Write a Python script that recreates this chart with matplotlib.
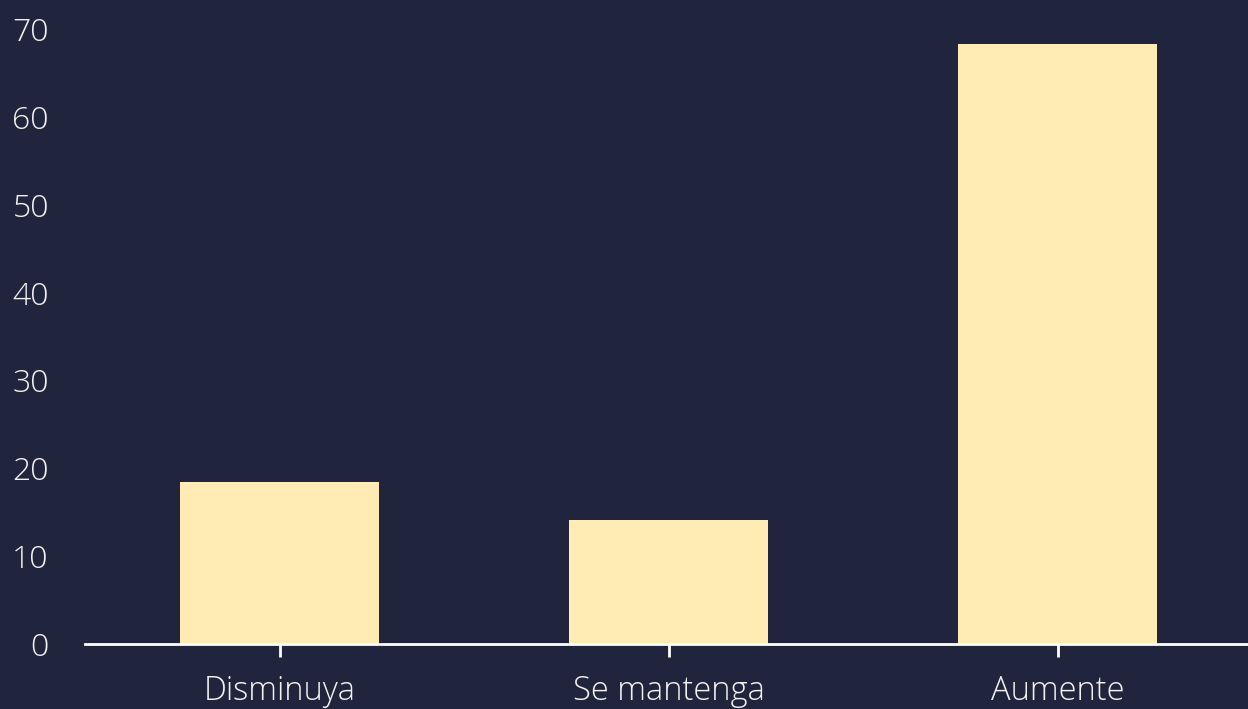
import matplotlib.pyplot as plt

# data
categories = ["Disminuya", "Se mantenga", "Aumente"]
values = [18.4, 14.1, 68.3]
yticks = [0, 10, 20, 30, 40, 50, 60, 70]

bg = "#20243d"
bar_color = "#ffebb3"

plt.rcParams['font.family'] = ['Open Sans', 'DejaVu Sans']

fig = plt.figure(figsize=(12.48, 7.09), dpi=100, facecolor=bg)
ax = fig.add_axes([85/1248, 65/709, (1252-85)/1248, (644-29)/709])
ax.set_facecolor(bg)

x = range(len(categories))
ax.bar(x, values, width=0.51, color=bar_color, zorder=2)

ax.set_xlim(-0.5, 2.5)
ax.set_ylim(0, 70)
ax.set_yticks(yticks)
ax.set_xticks(list(x))
ax.set_xticklabels(categories)

for s in ["top", "right", "left"]:
    ax.spines[s].set_visible(False)
ax.spines["bottom"].set_color("white")
ax.spines["bottom"].set_linewidth(2)
ax.spines["bottom"].set_zorder(3)

ax.tick_params(axis='y', length=0, pad=26, labelsize=23, labelcolor="#f2f2f2")
ax.tick_params(axis='x', length=9, width=2, color="white", direction="out",
               pad=13, labelsize=23.5, labelcolor="#f2f2f2")
for lbl in ax.get_xticklabels() + ax.get_yticklabels():
    lbl.set_fontweight("light")

fig.savefig("out.png", dpi=100, facecolor=bg)
